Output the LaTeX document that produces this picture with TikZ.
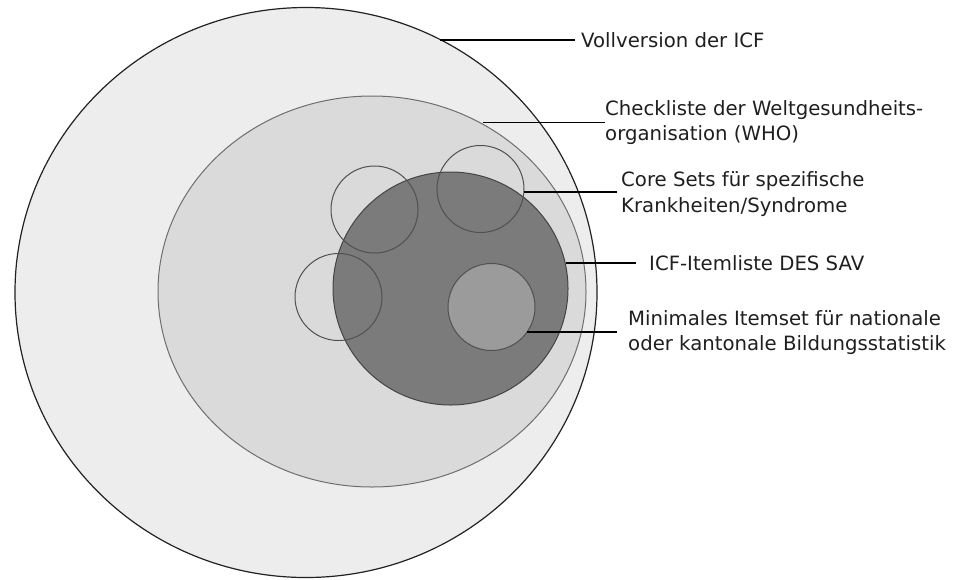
\documentclass[tikz,border=0pt]{standalone}
\usepackage{fontspec}
\setmainfont{DejaVu Sans}
\usetikzlibrary{shapes.geometric}
\definecolor{outerfill}{HTML}{EDEDED}
\definecolor{midfill}{HTML}{DADADA}
\definecolor{darkfill}{HTML}{7B7B7B}
\definecolor{innerfill}{HTML}{9B9B9B}
\definecolor{outerline}{HTML}{222222}
\definecolor{midline}{HTML}{6E6E6E}
\definecolor{darkline}{HTML}{444444}
\definecolor{smallline}{HTML}{505050}
\tikzset{
  zone/.style={ellipse, inner sep=0pt, outer sep=0pt},
  smallset/.style={circle, inner sep=0pt, outer sep=0pt, minimum size=87pt, draw=smallline, line width=1pt},
  leader/.style={draw=black, line width=1.2pt},
  label/.style={anchor=west, inner sep=0pt, align=left, font=\fontsize{19.7}{25.5}\selectfont, text=black!88}
}
\begin{document}
\begin{tikzpicture}[x=1pt,y=-1pt]
\useasboundingbox (0,0) rectangle (957,579);
% zones
\node[zone, fill=outerfill, draw=outerline, line width=1.2pt, minimum width=582pt, minimum height=570pt] (voll) at (306,292.5) {};
\node[zone, fill=midfill, draw=midline, line width=1pt, minimum width=428pt, minimum height=391pt] (check) at (372,291.5) {};
\node[zone, fill=darkfill, draw=darkline, line width=1pt, minimum width=235pt, minimum height=233pt] (icf) at (450.5,288.5) {};
\node[smallset, fill=innerfill] (mini) at (491.5,307) {};
\node[smallset] (coreA) at (374.5,209.5) {};
\node[smallset] (coreB) at (480.5,189) {};
\node[smallset] (coreC) at (338.5,297) {};
% leader start points
\coordinate (s1) at (440,40);
\coordinate (s2) at (483,122.5);
\coordinate (s3) at (524,192);
\coordinate (s4) at (566,263);
\coordinate (s5) at (527,332);
% labels
\node[label] (t1) at (581,40) {Vollversion der ICF};
\node[label] (t2) at (605,122.5) {Checkliste der Weltgesundheits-\\organisation (WHO)};
\node[label] (t3) at (621,194) {Core Sets für spezifische\\Krankheiten/Syndrome};
\node[label] (t4) at (649,263) {ICF-Itemliste DES SAV};
\node[label] (t5) at (628,332.5) {Minimales Itemset für nationale\\oder kantonale Bildungsstatistik};
% connectors
\draw[leader] (s1) -- ([xshift=-6pt]t1.west |- s1);
\draw[leader] (s2) -- ([xshift=0pt]t2.west |- s2);
\draw[leader] (s3) -- ([xshift=-4pt]t3.west |- s3);
\draw[leader] (s4) -- ([xshift=-13pt]t4.west |- s4);
\draw[leader] (s5) -- ([xshift=-11pt]t5.west |- s5);
\end{tikzpicture}
\end{document}
